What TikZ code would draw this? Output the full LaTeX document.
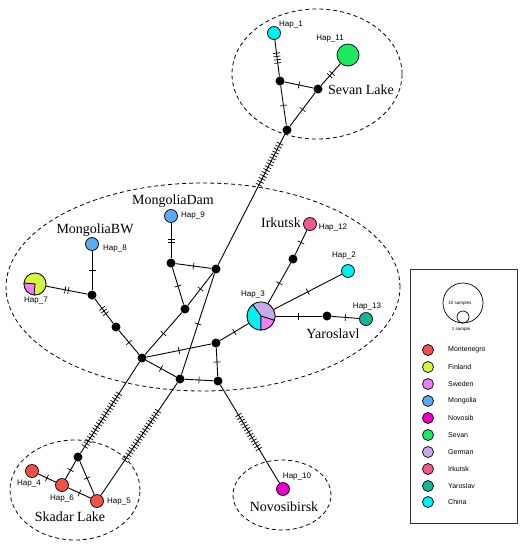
\documentclass[tikz,border=0pt]{standalone}
\usepackage{fontspec}
\setmainfont{Liberation Serif}
\setsansfont{Liberation Sans}
\usetikzlibrary{decorations.markings}

\definecolor{montenegro}{RGB}{240,82,74}
\definecolor{finland}{RGB}{212,245,66}
\definecolor{sweden}{RGB}{240,128,240}
\definecolor{mongolia}{RGB}{94,170,240}
\definecolor{novosib}{RGB}{232,0,200}
\definecolor{sevan}{RGB}{30,232,96}
\definecolor{german}{RGB}{200,170,232}
\definecolor{irkutsk}{RGB}{240,90,140}
\definecolor{yaroslav}{RGB}{24,180,150}
\definecolor{china}{RGB}{0,240,240}

\begin{document}
\begin{tikzpicture}[
    x=1pt, y=-1pt,
    hap/.style = {circle, draw, line width=0.7pt, inner sep=0pt,
                  minimum size=13pt, fill=white},
    med/.style = {circle, fill=black, inner sep=0pt, minimum size=9pt},
    wedge/.style = {draw=black, line width=0.7pt},
    haplab/.style = {font=\sffamily\fontsize{8}{9}\selectfont, inner sep=0pt},
    place/.style = {font=\rmfamily\fontsize{14}{16}\selectfont, inner sep=0pt},
    region/.style = {dash pattern=on 4pt off 3pt, line width=0.8pt},
    link/.style = {line width=0.9pt},
    mut/.style 2 args = {postaction={decorate, decoration={markings,
        mark=at position #2 with {\foreach \k in {1,...,#1}
          {\draw[line width=0.7pt] ({(\k-(#1+1)/2)*3.3pt},-3.5pt) -- ++(0pt,7pt);}}}}},
    legdot/.style = {circle, draw, line width=0.7pt, inner sep=0pt, minimum size=11pt},
    legtext/.style = {font=\sffamily\fontsize{7}{8}\selectfont, anchor=west, inner sep=0pt},
    tiny/.style = {font=\sffamily\fontsize{4.5}{5}\selectfont, inner sep=0pt}
]
\useasboundingbox (0,0) rectangle (530,550);

\draw[region] (317,74) ellipse [x radius=85pt, y radius=65pt];
\draw[region] (203,287) ellipse [x radius=197pt, y radius=104pt];
\draw[region] (75,490) ellipse [x radius=65pt, y radius=50pt];
\draw[region] (282,495) ellipse [x radius=49pt, y radius=35pt];

\node[hap, fill=china] (h1) at (274,33) {};
\node[hap, fill=sevan, minimum size=22pt] (h11) at (348,55) {};
\node[hap, minimum size=22pt] (h7) at (35,284) {};
\node[hap, fill=mongolia] (h8) at (92,244) {};
\node[hap, fill=mongolia] (h9) at (171,216) {};
\node[hap, minimum size=28pt] (h3) at (261,316) {};
\node[hap, fill=irkutsk] (h12) at (310,224) {};
\node[hap, fill=china] (h2) at (348,271) {};
\node[hap, fill=yaroslav] (h13) at (366,319) {};
\node[hap, fill=montenegro] (h4) at (32,471) {};
\node[hap, fill=montenegro] (h6) at (62,485) {};
\node[hap, fill=montenegro] (h5) at (97,501) {};
\node[hap, fill=novosib] (h10) at (283,489) {};

\node[med] (m1) at (280,81) {};
\node[med] (m2) at (318,89) {};
\node[med] (m3) at (287,130) {};
\node[med] (m4) at (216,269) {};
\node[med] (m5) at (171,263) {};
\node[med] (m6) at (92,295) {};
\node[med] (m7) at (116,327) {};
\node[med] (m8) at (142,358) {};
\node[med] (m9) at (185,309) {};
\node[med] (m10) at (216,343) {};
\node[med] (m11) at (180,379) {};
\node[med] (m12) at (218,381) {};
\node[med] (m13) at (293,259) {};
\node[med] (m14) at (327,316) {};
\node[med] (m15) at (78,457) {};

\filldraw[wedge, fill=finland] (h7.center) -- ++(-95:11pt) arc[start angle=-95, end angle=175, radius=11pt] -- cycle;
\filldraw[wedge, fill=sweden] (h7.center) -- ++(175:11pt) arc[start angle=175, end angle=265, radius=11pt] -- cycle;
\filldraw[wedge, fill=german] (h3.center) -- ++(-18:14pt) arc[start angle=-18, end angle=126, radius=14pt] -- cycle;
\filldraw[wedge, fill=china] (h3.center) -- ++(126:14pt) arc[start angle=126, end angle=270, radius=14pt] -- cycle;
\filldraw[wedge, fill=sweden] (h3.center) -- ++(270:14pt) arc[start angle=270, end angle=342, radius=14pt] -- cycle;

\draw[link, mut={4}{0.5}] (h1) -- (m1);
\draw[link, mut={2}{0.5}] (h11) -- (m2);
\draw[link, mut={1}{0.5}] (m1) -- (m2);
\draw[link, mut={1}{0.5}] (m1) -- (m3);
\draw[link, mut={1}{0.5}] (m2) -- (m3);
\draw[link, mut={15}{0.23}] (m3) -- (m4);
\draw[link, mut={2}{0.5}] (h9) -- (m5);
\draw[link, mut={1}{0.5}] (m5) -- (m4);
\draw[link, mut={1}{0.5}] (m5) -- (m9);
\draw[link, mut={1}{0.5}] (m9) -- (m4);
\draw[link, mut={1}{0.5}] (h8) -- (m6);
\draw[link, mut={2}{0.5}] (h7) -- (m6);
\draw[link, mut={3}{0.5}] (m6) -- (m7);
\draw[link, mut={1}{0.5}] (m7) -- (m8);
\draw[link, mut={1}{0.5}] (m8) -- (m9);
\draw[link, mut={1}{0.5}] (m8) -- (m10);
\draw[link, mut={1}{0.5}] (m8) -- (m11);
\draw[link, mut={1}{0.5}] (m4) -- (m11);
\draw[link, mut={1}{0.5}] (m11) -- (m12);
\draw[link, mut={1}{0.5}] (m10) -- (m12);
\draw[link, mut={1}{0.5}] (m10) -- (h3);
\draw[link, mut={1}{0.5}] (h3) -- (m13);
\draw[link, mut={1}{0.5}] (m13) -- (h12);
\draw[link, mut={1}{0.5}] (h3) -- (h2);
\draw[link, mut={1}{0.5}] (h3) -- (m14);
\draw[link, mut={1}{0.5}] (m14) -- (h13);
\draw[link, mut={20}{0.64}] (m8) -- (m15);
\draw[link, mut={19}{0.47}] (m11) -- (h5);
\draw[link, mut={13}{0.48}] (m12) -- (h10);
\draw[link, mut={1}{0.5}] (h4) -- (h6);
\draw[link, mut={1}{0.5}] (h6) -- (h5);
\draw[link, mut={1}{0.5}] (m15) -- (h6);
\draw[link, mut={1}{0.5}] (m15) -- (h5);

\node[haplab] (l1) at (291,25) {Hap\_1};
\node[haplab] (l11) at (330,39) {Hap\_11};
\node[haplab] (l7) at (36,301) {Hap\_7};
\node[haplab] (l8) at (115,249) {Hap\_8};
\node[haplab] (l9) at (193,216) {Hap\_9};
\node[haplab] (l12) at (333,228) {Hap\_12};
\node[haplab] (l2) at (344,256) {Hap\_2};
\node[haplab] (l3) at (253,295) {Hap\_3};
\node[haplab] (l13) at (367,307) {Hap\_13};
\node[haplab] (l4) at (29,484) {Hap\_4};
\node[haplab] (l6) at (62,499) {Hap\_6};
\node[haplab] (l5) at (119,502) {Hap\_5};
\node[haplab] (l10) at (297,477) {Hap\_10};

\node[place] (sevan) at (361,90) {Sevan Lake};
\node[place] (mdam) at (173,201) {MongoliaDam};
\node[place] (mbw) at (95,230) {MongoliaBW};
\node[place] (irk) at (281,223) {Irkutsk};
\node[place] (yar) at (333,334) {Yaroslavl};
\node[place] (skadar) at (70,517) {Skadar Lake};
\node[place] (novo) at (284,507) {Novosibirsk};

\draw[line width=0.8pt, black!80] (410,269) rectangle (517,523);
\node[circle, draw, line width=0.7pt, minimum size=40pt, inner sep=0pt] (big) at (463,303) {};
\node[circle, draw, line width=0.7pt, minimum size=12pt, inner sep=0pt] (small) at (463,317) {};
\node[tiny] (bigtxt) at (460,303) {10 samples};
\node[tiny] (smalltxt) at (461,329) {1 sample};

\node[legdot, fill=montenegro] (c1) at (428,350) {};
\node[legdot, fill=finland] (c2) at (428,367) {};
\node[legdot, fill=sweden] (c3) at (428,384) {};
\node[legdot, fill=mongolia] (c4) at (428,401) {};
\node[legdot, fill=novosib] (c5) at (428,418) {};
\node[legdot, fill=sevan] (c6) at (428,435) {};
\node[legdot, fill=german] (c7) at (428,452) {};
\node[legdot, fill=irkutsk] (c8) at (428,469) {};
\node[legdot, fill=yaroslav] (c9) at (428,486) {};
\node[legdot, fill=china] (c10) at (428,502) {};
\node[legtext] (t1) at (448,350) {Montenegro};
\node[legtext] (t2) at (448,367) {Finland};
\node[legtext] (t3) at (448,384) {Sweden};
\node[legtext] (t4) at (448,401) {Mongolia};
\node[legtext] (t5) at (448,418) {Novosib};
\node[legtext] (t6) at (448,435) {Sevan};
\node[legtext] (t7) at (448,452) {German};
\node[legtext] (t8) at (448,469) {Irkutsk};
\node[legtext] (t9) at (448,486) {Yaroslav};
\node[legtext] (t10) at (448,502) {China};

\end{tikzpicture}
\end{document}
